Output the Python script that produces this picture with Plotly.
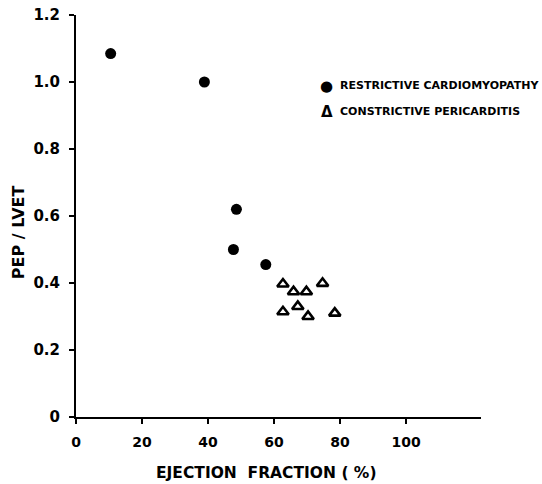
import plotly.graph_objects as go

# Restrictive cardiomyopathy (filled circles)
rcm_ef = [10.5, 38.9, 48.6, 47.7, 57.5]
rcm_ratio = [1.085, 1.00, 0.62, 0.50, 0.455]

# Constrictive pericarditis (open triangles)
cp_ef = [62.7, 65.9, 69.8, 74.7, 62.7, 67.2, 70.3, 78.4]
cp_ratio = [0.397, 0.374, 0.374, 0.399, 0.314, 0.33, 0.30, 0.31]

x_ticks = [0, 20, 40, 60, 80, 100]
x_ticktext = ["0", "20", "40", "60", "80", "100"]
y_ticks = [0, 0.2, 0.4, 0.6, 0.8, 1.0, 1.2]
y_ticktext = ["0", "0.2", "0.4", "0.6", "0.8", "1.0", "1.2"]

series_names = ["RESTRICTIVE CARDIOMYOPATHY", "CONSTRICTIVE PERICARDITIS"]
legend_symbols = ["●", "Δ"]
x_title = "EJECTION  FRACTION ( %)"
y_title = "PEP / LVET"

FONT = "DejaVu Sans, Liberation Sans, sans-serif"

fig = go.Figure()
fig.add_trace(go.Scatter(
    x=rcm_ef, y=rcm_ratio, mode="markers", name=series_names[0],
    marker=dict(symbol="circle", size=11, color="black"),
))
fig.add_trace(go.Scatter(
    x=cp_ef, y=cp_ratio, mode="markers", name=series_names[1],
    marker=dict(symbol="triangle-up-open", size=10, color="black",
                line=dict(width=2.6, color="black")),
))

annotations = [
    dict(text=x_title, xref="paper", yref="paper", x=0.469, y=-0.139,
         xanchor="center", yanchor="middle", showarrow=False,
         font=dict(family=FONT, size=15.5, weight="bold")),
    dict(text=y_title, xref="paper", yref="paper", x=-0.143, y=0.46,
         xanchor="center", yanchor="middle", showarrow=False, textangle=-90,
         font=dict(family=FONT, size=16, weight="bold")),
]
legend_y = [0.824, 0.759]
for sym, name, ly, sz in zip(legend_symbols, series_names, legend_y, [15, 15]):
    annotations.append(dict(text=sym, xref="paper", yref="paper", x=0.619, y=ly,
                            xanchor="center", yanchor="middle", showarrow=False,
                            font=dict(family=FONT, size=sz, weight="bold")))
    annotations.append(dict(text=name, xref="paper", yref="paper", x=0.647, y=ly,
                            xanchor="left", yanchor="middle", showarrow=False,
                            font=dict(family=FONT, size=11, weight="bold")))

fig.update_layout(
    width=542, height=484,
    margin=dict(l=76, r=61, t=15, b=67),
    paper_bgcolor="white", plot_bgcolor="white",
    font=dict(family=FONT, color="black", size=13, weight="bold"),
    showlegend=False,
    annotations=annotations,
    xaxis=dict(
        range=[0, 122.7], tickmode="array", tickvals=x_ticks, ticktext=x_ticktext,
        showgrid=False, zeroline=False, showline=True, linecolor="black", linewidth=2,
        ticks="outside", ticklen=5, tickwidth=2, tickcolor="black",
        ticklabelstandoff=6,
        tickfont=dict(family=FONT, size=14, weight="bold"),
        automargin=False,
    ),
    yaxis=dict(
        range=[0, 1.2], tickmode="array", tickvals=y_ticks, ticktext=y_ticktext,
        showgrid=False, zeroline=False, showline=True, linecolor="black", linewidth=2,
        ticks="outside", ticklen=5, tickwidth=2, tickcolor="black",
        ticklabelstandoff=6,
        tickfont=dict(family=FONT, size=15, weight="bold"),
        automargin=False,
    ),
)

fig.write_html("out.html", config={"displayModeBar": False},
               post_script="document.body.style.margin='0px';")
